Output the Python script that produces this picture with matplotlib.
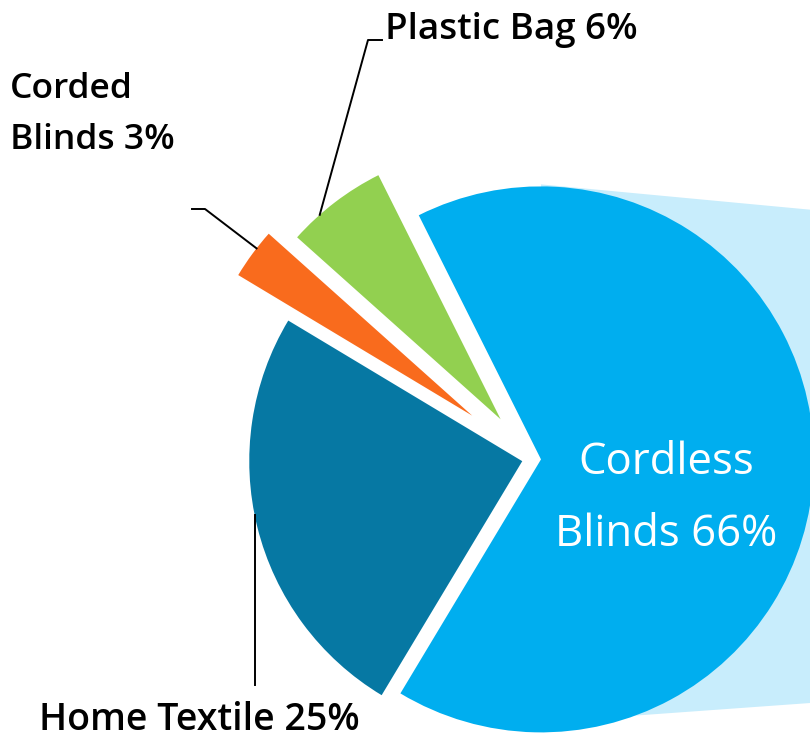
import numpy as np
import matplotlib.pyplot as plt
from matplotlib.patches import Polygon

# data
names = ["Cordless\nBlinds", "Plastic Bag", "Corded\nBlinds", "Home Textile"]
shares = [66, 6, 3, 25]
colors = ["#00AEEF", "#92D050", "#F96B1D", "#0678A3"]

W, H = 810, 739
R = 273
FONT = "Open Sans"
# slice pull-out, in pixels (pie explode is in data units here)
pull = [10, 50, 73, 9]

fig = plt.figure(figsize=(W / 100, H / 100), dpi=100)
ax = fig.add_axes([0, 0, 1, 1])

wedges, _ = ax.pie(shares, colors=colors, explode=pull, startangle=239,
                   radius=R, center=(531, 280), counterclock=True,
                   wedgeprops=dict(linewidth=0))
ax.set_aspect("equal")
ax.set_xlim(0, W)
ax.set_ylim(0, H)
ax.axis("off")

# pale band leading off to the right from the big slice
cx, cy = wedges[0].center
xr = W + 10
band = Polygon([(cx, cy + R + 2), (xr, cy + R + 2 - 0.094 * (xr - cx)),
                (xr, cy - R + 10 + 0.072 * (xr - cx)), (cx, cy - R + 10)],
               closed=True, facecolor="#C8EDFC", edgecolor="none", zorder=0)
ax.add_patch(band)


def py(y):
    # picture rows (from the top) -> data y
    return H - y


def on_arc(w, frac):
    a = np.deg2rad(w.theta1 + frac * (w.theta2 - w.theta1))
    x0, y0 = w.center
    return x0 + w.r * np.cos(a), y0 + w.r * np.sin(a)


def label_text(i):
    return names[i] + " " + str(shares[i]) + "%"


# leader lines
lw = 1.4
ax0 = on_arc(wedges[1], 0.69)
ax.plot([ax0[0], 368, 382], [ax0[1], py(40), py(40)], color="black", lw=lw)
ax1 = on_arc(wedges[2], 0.37)
ax.plot([ax1[0], 205, 192], [ax1[1], py(209), py(209)], color="black", lw=lw)
ax3 = on_arc(wedges[3], 0.47)
ax.plot([ax3[0], ax3[0]], [ax3[1], py(685)], color="black", lw=lw)

# labels, one line at a time so baselines can be placed
for j, line in enumerate(label_text(0).split("\n")):
    ax.text(666, py(474 + 72 * j), line, color="white", fontsize=31.5,
            family=FONT, ha="center", va="baseline")

ax.text(385, py(39), label_text(1), color="black", fontsize=26.5,
        family=FONT, weight="semibold", ha="left", va="baseline")

for j, line in enumerate(label_text(2).split("\n")):
    ax.text(10, py(98 + 51 * j), line, color="black", fontsize=25.5,
            family=FONT, weight="semibold", ha="left", va="baseline")

ax.text(39, py(730), label_text(3), color="black", fontsize=27,
        family=FONT, weight="semibold", ha="left", va="baseline")

fig.savefig("out.png", dpi=100)
